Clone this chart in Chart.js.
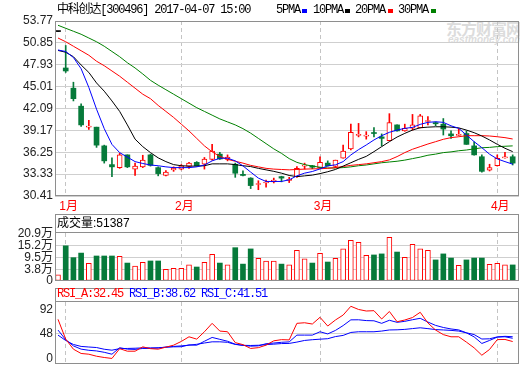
<!DOCTYPE html>
<html lang="zh">
<head>
<meta charset="utf-8">
<title>中科创达 300496</title>
<script src="https://cdn.jsdelivr.net/npm/chart.js@4/dist/chart.umd.min.js"></script>
<style>
  html, body { margin:0; padding:0; background:#fff; }
  #wrap { position:relative; width:520px; height:365px; overflow:hidden; background:#fff; }
  #wrap canvas { position:absolute; left:0; top:0; }
  .txt { position:absolute; white-space:pre; line-height:14px; color:#000; }
  .mono { font-family:'Liberation Mono','Noto Sans CJK SC',monospace; font-size:12px; letter-spacing:-1.2px; }
  .sans { font-family:'Liberation Sans','Noto Sans CJK SC',sans-serif; font-size:12px; }
  .sq { position:absolute; width:5px; height:4px; top:9px; }
  .wm { position:absolute; color:#dcdcdc; white-space:pre; }
</style>
</head>
<body>
<div id="wrap">
  <div class="wm" style="left:446px;top:19px;font:bold 16px/18px 'Noto Sans CJK SC',sans-serif;letter-spacing:-1px;">东方财富网</div>
  <div class="wm" style="left:448px;top:35px;font:italic bold 10px/10px 'Liberation Sans',sans-serif;">eastmoney.com</div>
  <canvas id="cPrice" width="520" height="400"></canvas>
  <canvas id="cVol" width="520" height="400"></canvas>
  <canvas id="cRsi" width="520" height="400"></canvas>
  <div class="txt mono" style="left:57px;top:3px;">中科创达[300496] 2017-04-07 15:00</div>
  <div class="txt mono" style="left:276px;top:3px;">5PMA</div>
  <div class="sq" style="left:302px;background:#0000ff;"></div>
  <div class="txt mono" style="left:313px;top:3px;">10PMA</div>
  <div class="sq" style="left:345px;background:#000000;"></div>
  <div class="txt mono" style="left:355px;top:3px;">20PMA</div>
  <div class="sq" style="left:388px;background:#ff0000;"></div>
  <div class="txt mono" style="left:398px;top:3px;">30PMA</div>
  <div class="sq" style="left:431px;background:#008000;"></div>
  <div class="txt sans" style="left:57px;top:216px;">成交量:51387</div>
  <div class="txt mono" id="rsiHead" style="left:57px;top:287px;"></div>
</div>
<script>
// ---------------- data ----------------
const monthTickIdx = [1, 16, 34, 57];
const monthLabels  = ['1月', '2月', '3月', '4月'];

const openP = [52.36, 47.5, 44.8, 42.4, 39.6, 39.6, 37.1, 34.6, 34.2, 35.9,
  34.0, 34.3, 35.9, 34.2, 33.15, 33.9, 34.0, 34.35, 34.9, 34.65,
  35.3, 36.0, 35.3, 34.65, 33.3, 32.8, 31.95, 32.15, 32.3, 33.0,
  32.5, 33.0, 34.4, 34.45, 34.2, 34.8, 34.35, 35.45, 36.7, 38.5,
  38.4, 38.8, 38.3, 37.8, 39.9, 39.1, 39.45, 39.5, 40.35, 40.2,
  40.0, 38.7, 38.5, 38.75, 37.1, 35.65, 33.85, 34.45, 35.5, 35.65];
const highP = [52.36, 50.5, 45.6, 42.7, 40.5, 39.6, 37.2, 35.5, 36.1, 35.9,
  34.8, 35.85, 36.0, 34.3, 33.8, 34.3, 34.6, 34.9, 35.0, 35.55,
  37.3, 36.25, 35.9, 34.8, 33.77, 32.85, 32.45, 32.55, 32.8, 33.05,
  32.9, 34.35, 34.8, 34.5, 35.65, 35.1, 35.2, 37.2, 40.0, 40.1,
  39.0, 39.55, 38.7, 41.4, 39.9, 40.0, 41.3, 41.3, 41.0, 40.3,
  40.75, 39.1, 39.4, 39.1, 37.65, 35.9, 34.65, 35.9, 36.25, 35.9];
const lowP = [52.36, 46.9, 43.1, 39.7, 39.3, 36.9, 34.8, 33.0, 34.1, 34.2,
  33.15, 34.2, 34.4, 33.1, 33.1, 33.7, 33.9, 34.1, 34.4, 34.0,
  35.2, 35.3, 35.1, 32.9, 33.1, 31.4, 31.25, 31.6, 32.15, 32.3,
  32.2, 32.9, 34.0, 34.05, 34.2, 34.4, 34.2, 35.45, 36.55, 38.3,
  38.0, 38.3, 37.1, 37.8, 39.05, 39.05, 39.2, 39.5, 39.9, 39.8,
  38.55, 38.1, 38.45, 37.3, 35.85, 33.6, 33.75, 34.4, 35.45, 34.55];
const closeP = [52.36, 47.1, 43.4, 39.9, 39.7, 37.2, 35.1, 34.3, 35.9, 34.3,
  34.4, 35.2, 34.5, 33.4, 33.6, 34.1, 34.45, 34.8, 34.45, 35.35,
  36.4, 35.35, 35.6, 33.45, 33.15, 31.8, 32.05, 32.25, 32.55, 32.8,
  32.65, 34.1, 34.45, 34.25, 34.9, 34.45, 35.2, 36.4, 38.9, 38.6,
  38.5, 38.75, 38.1, 40.2, 39.1, 39.45, 39.9, 41.1, 40.45, 40.05,
  39.35, 38.45, 38.6, 37.3, 35.9, 33.7, 34.2, 35.45, 35.55, 34.8];

// volume, in 万
const volume = [1.1, 15.1, 9.4, 11.6, 6.7, 10.2, 10.2, 10.2, 10.0, 6.8,
  5.4, 7.2, 7.8, 7.8, 3.8, 4.3, 4.3, 5.9, 4.9, 7.2,
  11.0, 6.8, 5.9, 14.2, 6.3, 13.6, 9.1, 7.8, 7.8, 6.3,
  5.9, 12.9, 8.8, 6.8, 11.5, 7.3, 9.1, 13.6, 17.7, 16.8,
  10.5, 10.7, 11.2, 19.2, 12.1, 9.6, 15.8, 13.6, 12.9, 8.3,
  11.2, 9.2, 5.7, 8.3, 9.2, 9.2, 6.2, 6.7, 5.9, 5.9];

const ma5 = [49.9, 49.7, 48.9, 47.4, 44.9, 42.0, 39.4, 37.3, 36.2, 35.6,
  35.0, 34.75, 34.55, 34.45, 34.3, 34.2, 34.2, 34.2, 34.3, 34.55,
  35.1, 35.45, 35.45, 35.1, 34.43, 33.6, 32.8, 32.35, 32.35, 32.35,
  32.57, 33.1, 33.46, 33.68, 34.03, 34.43, 34.57, 35.0, 35.89, 36.6,
  37.22, 37.89, 38.46, 38.91, 39.21, 39.44, 39.57, 39.97, 40.24, 40.32,
  40.24, 39.78, 39.44, 38.55, 37.66, 36.86, 35.99, 35.36, 35.0, 34.66];
const ma10 = [49.84, 49.6, 49.0, 47.9, 46.9, 45.5, 44.4, 43.1, 41.7, 39.9,
  38.0, 37.0, 36.2, 35.5, 35.0, 34.6, 34.45, 34.4, 34.4, 34.45,
  34.7, 34.7, 34.7, 34.6, 34.45, 34.34, 34.1, 33.9, 33.7, 33.46,
  33.15, 33.0, 33.1, 33.2, 33.4, 33.65, 33.95, 34.4, 34.85, 35.3,
  35.7, 36.33, 37.0, 37.66, 38.28, 38.77, 39.21, 39.52, 39.6, 39.65,
  39.65, 39.6, 39.5, 39.21, 38.86, 38.42, 37.89, 37.31, 36.78, 36.33];
const ma20 = [51.5, 51.0, 50.4, 49.8, 49.2, 48.4, 47.8, 47.1, 46.4, 45.6,
  44.8, 44.0, 43.4, 42.5, 41.7, 40.9, 40.0, 39.1, 38.1, 37.1,
  36.3, 35.7, 35.3, 35.05, 34.8, 34.5, 34.3, 34.1, 34.0, 33.95,
  33.9, 33.95, 34.0, 34.03, 34.05, 34.1, 34.2, 34.35, 34.5, 34.6,
  34.7, 34.85, 35.0, 35.23, 35.67, 36.2, 36.65, 37.0, 37.35, 37.66,
  37.98, 38.2, 38.32, 38.46, 38.46, 38.46, 38.42, 38.32, 38.2, 38.02];
const ma30 = [53.2, 52.8, 52.4, 52.0, 51.5, 51.0, 50.4, 49.7, 49.0, 48.2,
  47.5, 46.7, 45.85, 45.2, 44.6, 44.0, 43.4, 42.8, 42.2, 41.7,
  41.2, 40.7, 40.3, 39.9, 39.4, 38.8, 38.1, 37.4, 36.7, 36.1,
  35.4, 34.9, 34.6, 34.4, 34.25, 34.15, 34.15, 34.2, 34.3, 34.45,
  34.55, 34.7, 34.85, 34.95, 35.05, 35.2, 35.4, 35.6, 35.85, 36.0,
  36.2, 36.3, 36.45, 36.55, 36.7, 36.85, 36.9, 37.0, 37.05, 37.1];

const rsiA = [74.4, 37.0, 18.0, 9.9, 8.5, 4.7, 2.3, 0.5, 19.0, 14.2,
  14.2, 22.4, 19.0, 18.0, 21.8, 25.6, 32.6, 41.4, 37.0, 50.9,
  66.8, 52.2, 50.9, 30.4, 26.6, 19.4, 20.9, 25.6, 33.8, 36.0,
  35.5, 66.8, 67.9, 65.5, 78.2, 61.7, 73.1, 82.5, 99.0, 93.0,
  90.1, 90.7, 75.0, 89.2, 69.8, 73.1, 77.8, 87.7, 67.4, 54.1,
  45.5, 41.4, 41.4, 31.3, 20.5, 6.6, 17.5, 36.1, 36.4, 32.45];
const rsiB = [54.1, 35.9, 24.2, 18.1, 15.9, 14.7, 12.1, 8.5, 20.8, 18.1,
  17.6, 19.4, 19.4, 20.4, 22.0, 22.4, 22.6, 26.0, 25.5, 33.0,
  40.2, 36.6, 33.0, 27.4, 25.2, 23.7, 24.3, 28.4, 29.6, 31.0,
  31.8, 44.6, 44.6, 44.6, 50.9, 46.8, 53.4, 62.6, 73.4, 73.5,
  72.0, 71.6, 66.8, 72.6, 68.7, 70.6, 73.6, 76.3, 69.2, 62.9,
  59.0, 56.2, 54.4, 48.9, 41.2, 28.8, 34.5, 40.8, 41.4, 38.62];
const rsiC = [44.6, 34.4, 26.9, 23.2, 22.1, 21.1, 17.9, 16.1, 19.1, 19.4,
  19.8, 20.5, 20.5, 20.5, 21.7, 23.2, 24.2, 25.6, 27.2, 29.7,
  31.9, 31.9, 31.0, 27.0, 25.3, 25.0, 25.4, 26.6, 27.5, 28.6,
  28.9, 31.4, 34.5, 35.9, 36.9, 37.8, 41.8, 44.0, 49.6, 50.9,
  50.9, 50.9, 52.2, 54.3, 54.6, 55.4, 56.9, 58.4, 56.8, 55.0,
  54.3, 53.5, 52.2, 48.9, 45.6, 37.2, 37.6, 41.2, 42.3, 41.51];

const priceTicks = [30.41, 33.33, 36.25, 39.17, 42.09, 45.01, 47.93, 50.85, 53.77];
const volTicks = [3.8, 9.5, 15.2, 20.9];
const rsiTicks = [0, 48, 92];

// ---------------- styles ----------------
const C_UP = '#ff0000', C_DN = '#067a3a', C_EQ = '#000000';
const FRAME = '#8e8e8e', GRID = '#cfcfcf', VGRID = '#c4c4c4';
const X_MIN = -0.39, X_MAX = 59.82;

Chart.defaults.font.family = "'Liberation Sans','Noto Sans CJK SC',sans-serif";
Chart.defaults.font.size = 12;
Chart.defaults.color = '#222';

const N = closeP.length;
const idx = Array.from({length: N}, (_, i) => i);
const dir = idx.map(i => closeP[i] > openP[i] ? 1 : (closeP[i] < openP[i] ? -1 : 0));
const candleColor = i => dir[i] > 0 ? C_UP : (dir[i] < 0 ? C_DN : C_EQ);
const volUp = i => closeP[i] >= openP[i];

document.getElementById('rsiHead').innerHTML =
  '<span style="color:#ff0000">RSI_A:' + rsiA[N - 1].toFixed(2) + '</span> ' +
  '<span style="color:#0000ff">RSI_B:' + rsiB[N - 1].toFixed(2) + '</span> ' +
  '<span style="color:#0000ff">RSI_C:' + rsiC[N - 1].toFixed(2) + '</span>';

function xAxis(showLabels, height) {
  return {
    type: 'linear', min: X_MIN, max: X_MAX, position: 'bottom', offset: false,
    afterBuildTicks: s => { s.ticks = monthTickIdx.map(v => ({value: v})); },
    afterFit: s => { s.height = height; s.paddingLeft = 0; s.paddingRight = 0; },
    grid: {color: VGRID, lineWidth: 1, drawTicks: false, offset: false},
    border: {display: false, dash: [4, 3]},
    ticks: {display: showLabels, autoSkip: false, maxRotation: 0, minRotation: 0,
      color: '#ff0000', padding: 3, labelOffset: 3,
      callback: v => { const k = monthTickIdx.indexOf(v); return k >= 0 ? monthLabels[k] : ''; }}
  };
}
function yAxis(min, max, tickVals, fmt, gridColorFn) {
  return {
    type: 'linear', min, max, position: 'left',
    afterBuildTicks: s => { s.ticks = tickVals.map(v => ({value: v})); },
    afterFit: s => { s.width = 55; s.paddingTop = 0; s.paddingBottom = 0; },
    grid: {color: gridColorFn || GRID, lineWidth: 1, drawTicks: false},
    border: {display: false},
    ticks: {padding: 2, color: '#222', autoSkip: false, callback: fmt}
  };
}
function frame(headerTop) {
  return {
    id: 'panelFrame',
    afterDraw(chart) {
      const {ctx, chartArea: a} = chart;
      const L = Math.round(a.left) + 0.5, R = Math.round(a.right) - 0.5, B = Math.round(a.bottom) - 0.5;
      const T = (headerTop != null ? headerTop : Math.round(a.top)) + 0.5;
      ctx.save();
      ctx.strokeStyle = FRAME; ctx.lineWidth = 1;
      ctx.strokeRect(L, T, R - L, B - T);
      if (headerTop != null) {
        const s = Math.round(a.top) - 0.5;
        ctx.beginPath(); ctx.moveTo(L, s); ctx.lineTo(R, s); ctx.stroke();
      }
      ctx.restore();
    }
  };
}
function baseOptions(padTop, padBottom, x, y) {
  return {
    responsive: false, animation: false, devicePixelRatio: 1, events: [],
    layout: {padding: {left: 0, right: 1, top: padTop, bottom: padBottom}},
    plugins: {legend: {display: false}, tooltip: {enabled: false}},
    scales: {x, y}
  };
}
const maLine = (label, data, color) => ({
  type: 'line', label, data: idx.map(i => ({x: i, y: data[i]})),
  borderColor: color, borderWidth: 1, pointRadius: 0, tension: 0, fill: false, order: 1
});

// ---------------- price panel ----------------
new Chart(document.getElementById('cPrice'), {
  type: 'line',
  data: {
    datasets: [
      maLine('5PMA', ma5, '#0000ff'),
      maLine('10PMA', ma10, '#000000'),
      maLine('20PMA', ma20, '#ff0000'),
      maLine('30PMA', ma30, '#008000'),
      {
        type: 'bar', label: 'body', order: 2, grouped: false,
        data: idx.map(i => ({x: i, y: [openP[i], closeP[i]]})),
        backgroundColor: idx.map(i => dir[i] > 0 ? '#ffffff' : candleColor(i)),
        borderColor: idx.map(i => candleColor(i)),
        borderWidth: idx.map(i => dir[i] > 0 ? 1 : 0),
        borderSkipped: false, barThickness: 5, minBarLength: 1
      },
      {
        type: 'bar', label: 'wick', order: 3, grouped: false,
        data: idx.map(i => ({x: i, y: [lowP[i], highP[i]]})),
        backgroundColor: idx.map(i => candleColor(i)),
        borderWidth: 0, barThickness: 1
      }
    ]
  },
  options: baseOptions(21, 400 - 196 - 19,
    xAxis(true, 19),
    yAxis(30.41, 53.77, priceTicks, v => Number(v).toFixed(2))),
  plugins: [frame(null)]
});

// ---------------- volume panel ----------------
const VOL_MIN = -1.83, VOL_MAX = 21.26;
new Chart(document.getElementById('cVol'), {
  type: 'line',
  data: {
    datasets: [{
      type: 'bar', label: '成交量', grouped: false, base: VOL_MIN,
      data: idx.map(i => ({x: i, y: volume[i]})),
      backgroundColor: idx.map(i => volUp(i) ? '#ffffff' : C_DN),
      borderColor: idx.map(i => volUp(i) ? C_UP : C_DN),
      borderWidth: idx.map(i => volUp(i) ? 1 : 0),
      borderSkipped: false, barThickness: 5
    }]
  },
  options: baseOptions(233, 400 - 281,
    xAxis(false, 0),
    (() => {
      const y = yAxis(VOL_MIN, VOL_MAX, [VOL_MIN].concat(volTicks),
        v => (v <= VOL_MIN + 0.001 ? '0' : v + '万'),
        c => (c.tick && (c.tick.value <= VOL_MIN + 0.001 || c.tick.value >= 20.9)) ? 'rgba(0,0,0,0)' : GRID);
      return y;
    })()),
  plugins: [frame(214)]
});

// ---------------- RSI panel ----------------
new Chart(document.getElementById('cRsi'), {
  type: 'line',
  data: {
    datasets: [
      {label: 'RSI_A', data: idx.map(i => ({x: i, y: rsiA[i]})), borderColor: '#ff0000', borderWidth: 1, pointRadius: 0, tension: 0},
      {label: 'RSI_B', data: idx.map(i => ({x: i, y: rsiB[i]})), borderColor: '#0000ff', borderWidth: 1, pointRadius: 0, tension: 0},
      {label: 'RSI_C', data: idx.map(i => ({x: i, y: rsiC[i]})), borderColor: '#0000ff', borderWidth: 1, pointRadius: 0, tension: 0}
    ]
  },
  options: baseOptions(302, 400 - 364,
    xAxis(false, 0),
    yAxis(-9.98, 107.1, rsiTicks, v => String(v),
      c => (c.tick && c.tick.value === 48) ? GRID : 'rgba(0,0,0,0)')),
  plugins: [frame(288)]
});
</script>
</body>
</html>
